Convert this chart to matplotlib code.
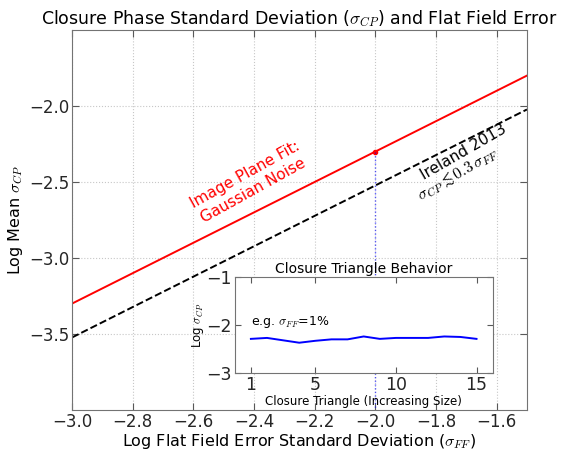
"""
Closure phase scatter vs flat field error, with inset of per-triangle behaviour.
"""

import numpy as np
import matplotlib.pyplot as plt
from matplotlib.ticker import FuncFormatter

plt.rcParams["mathtext.fontset"] = "cm"
plt.rcParams["font.family"] = ["DejaVu Sans"]

# main panel: log flat field error vs log mean closure phase scatter
log_sigma_ff = [-3.0, -1.5]
fit_offset = -0.3            # image plane fit (gaussian noise)
ireland_factor = 0.3         # Ireland 2013: sigma_CP <~ 0.3 sigma_FF
marker_ff = -2.0
marker_cp = -2.3

# inset: closure triangles at sigma_FF = 1%
triangles = list(range(1, 16))
log_cp_triangles = [-2.29, -2.27, -2.32, -2.37, -2.33, -2.30, -2.30, -2.24,
                    -2.29, -2.27, -2.27, -2.27, -2.24, -2.25, -2.29]

x = np.array(log_sigma_ff)
fit = x + fit_offset
ireland = x + np.log10(ireland_factor)

fmt = FuncFormatter(lambda v, pos: f"{v:.1f}".replace("-", "\u2212"))

fig = plt.figure(figsize=(5.63, 4.51), dpi=100)
ax = fig.add_axes([0.128, 0.091, 0.808, 0.8425])

ax.plot(x, fit, color="red", lw=1.4)
ax.plot(x, ireland, color="black", lw=1.4, ls="--")
ax.plot([marker_ff], [marker_cp], "o", color="red", ms=3, mec="red")
ax.plot([marker_ff, marker_ff], [marker_cp, -4.0], color="blue", ls=":", lw=1.0, alpha=0.6)

ax.text(-2.415, -2.505, "Image Plane Fit:\nGaussian Noise", color="red", fontsize=11,
        rotation=29, ha="center", va="center", rotation_mode="anchor")
ax.text(-1.709, -2.303, "Ireland 2013", color="black", fontsize=11,
        rotation=30, ha="center", va="center", rotation_mode="anchor")
ax.text(-1.728, -2.446, r"$\sigma_{CP} \lesssim 0.3\,\sigma_{FF}$", color="black", fontsize=11.5,
        rotation=30, ha="center", va="center", rotation_mode="anchor")

ax.set_xlim(-3.0, -1.5)
ax.set_ylim(-4.0, -1.5)
ax.set_xticks(np.arange(-3.0, -1.55, 0.2))
ax.set_yticks([-3.5, -3.0, -2.5, -2.0])
ax.xaxis.set_major_formatter(fmt)
ax.yaxis.set_major_formatter(fmt)
ax.tick_params(direction="in", top=True, right=True, labelsize=12, colors="0.35",
               labelcolor="0.15", length=5, pad=2)
for s in ax.spines.values():
    s.set_color("0.45")
ax.grid(True, ls=":", color="0.78", lw=0.8)
ax.set_title(r"Closure Phase Standard Deviation ($\sigma_{CP}$) and Flat Field Error",
             fontsize=12.5, pad=4)
ax.set_xlabel(r"Log Flat Field Error Standard Deviation ($\sigma_{FF}$)", fontsize=11.5,
              labelpad=1)
ax.set_ylabel(r"Log Mean $\sigma_{CP}$", fontsize=11.5, labelpad=3)

# inset
ins = fig.add_axes([0.417, 0.173, 0.458, 0.213])
ins.plot(triangles, log_cp_triangles, color="blue", lw=1.4)
ins.set_xlim(0, 16)
ins.set_ylim(-3, -1)
ins.set_xticks([1, 5, 10, 15])
ins.set_yticks([-3, -2, -1])
ins.tick_params(direction="in", top=True, right=True, labelsize=12.5, colors="0.35",
                labelcolor="0.15", length=4, pad=2)
for s in ins.spines.values():
    s.set_color("0.45")
ins.text(1, -1.93, r"e.g. $\sigma_{FF}$=1%", fontsize=9, ha="left", va="center")
ins.set_title("Closure Triangle Behavior", fontsize=10, pad=3)
ins.set_xlabel("Closure Triangle (Increasing Size)", fontsize=8.5, labelpad=1)
ins.set_ylabel(r"Log $\sigma_{CP}$", fontsize=8.5, labelpad=0)

fig.savefig("out.png", dpi=100)
plt.close(fig)
